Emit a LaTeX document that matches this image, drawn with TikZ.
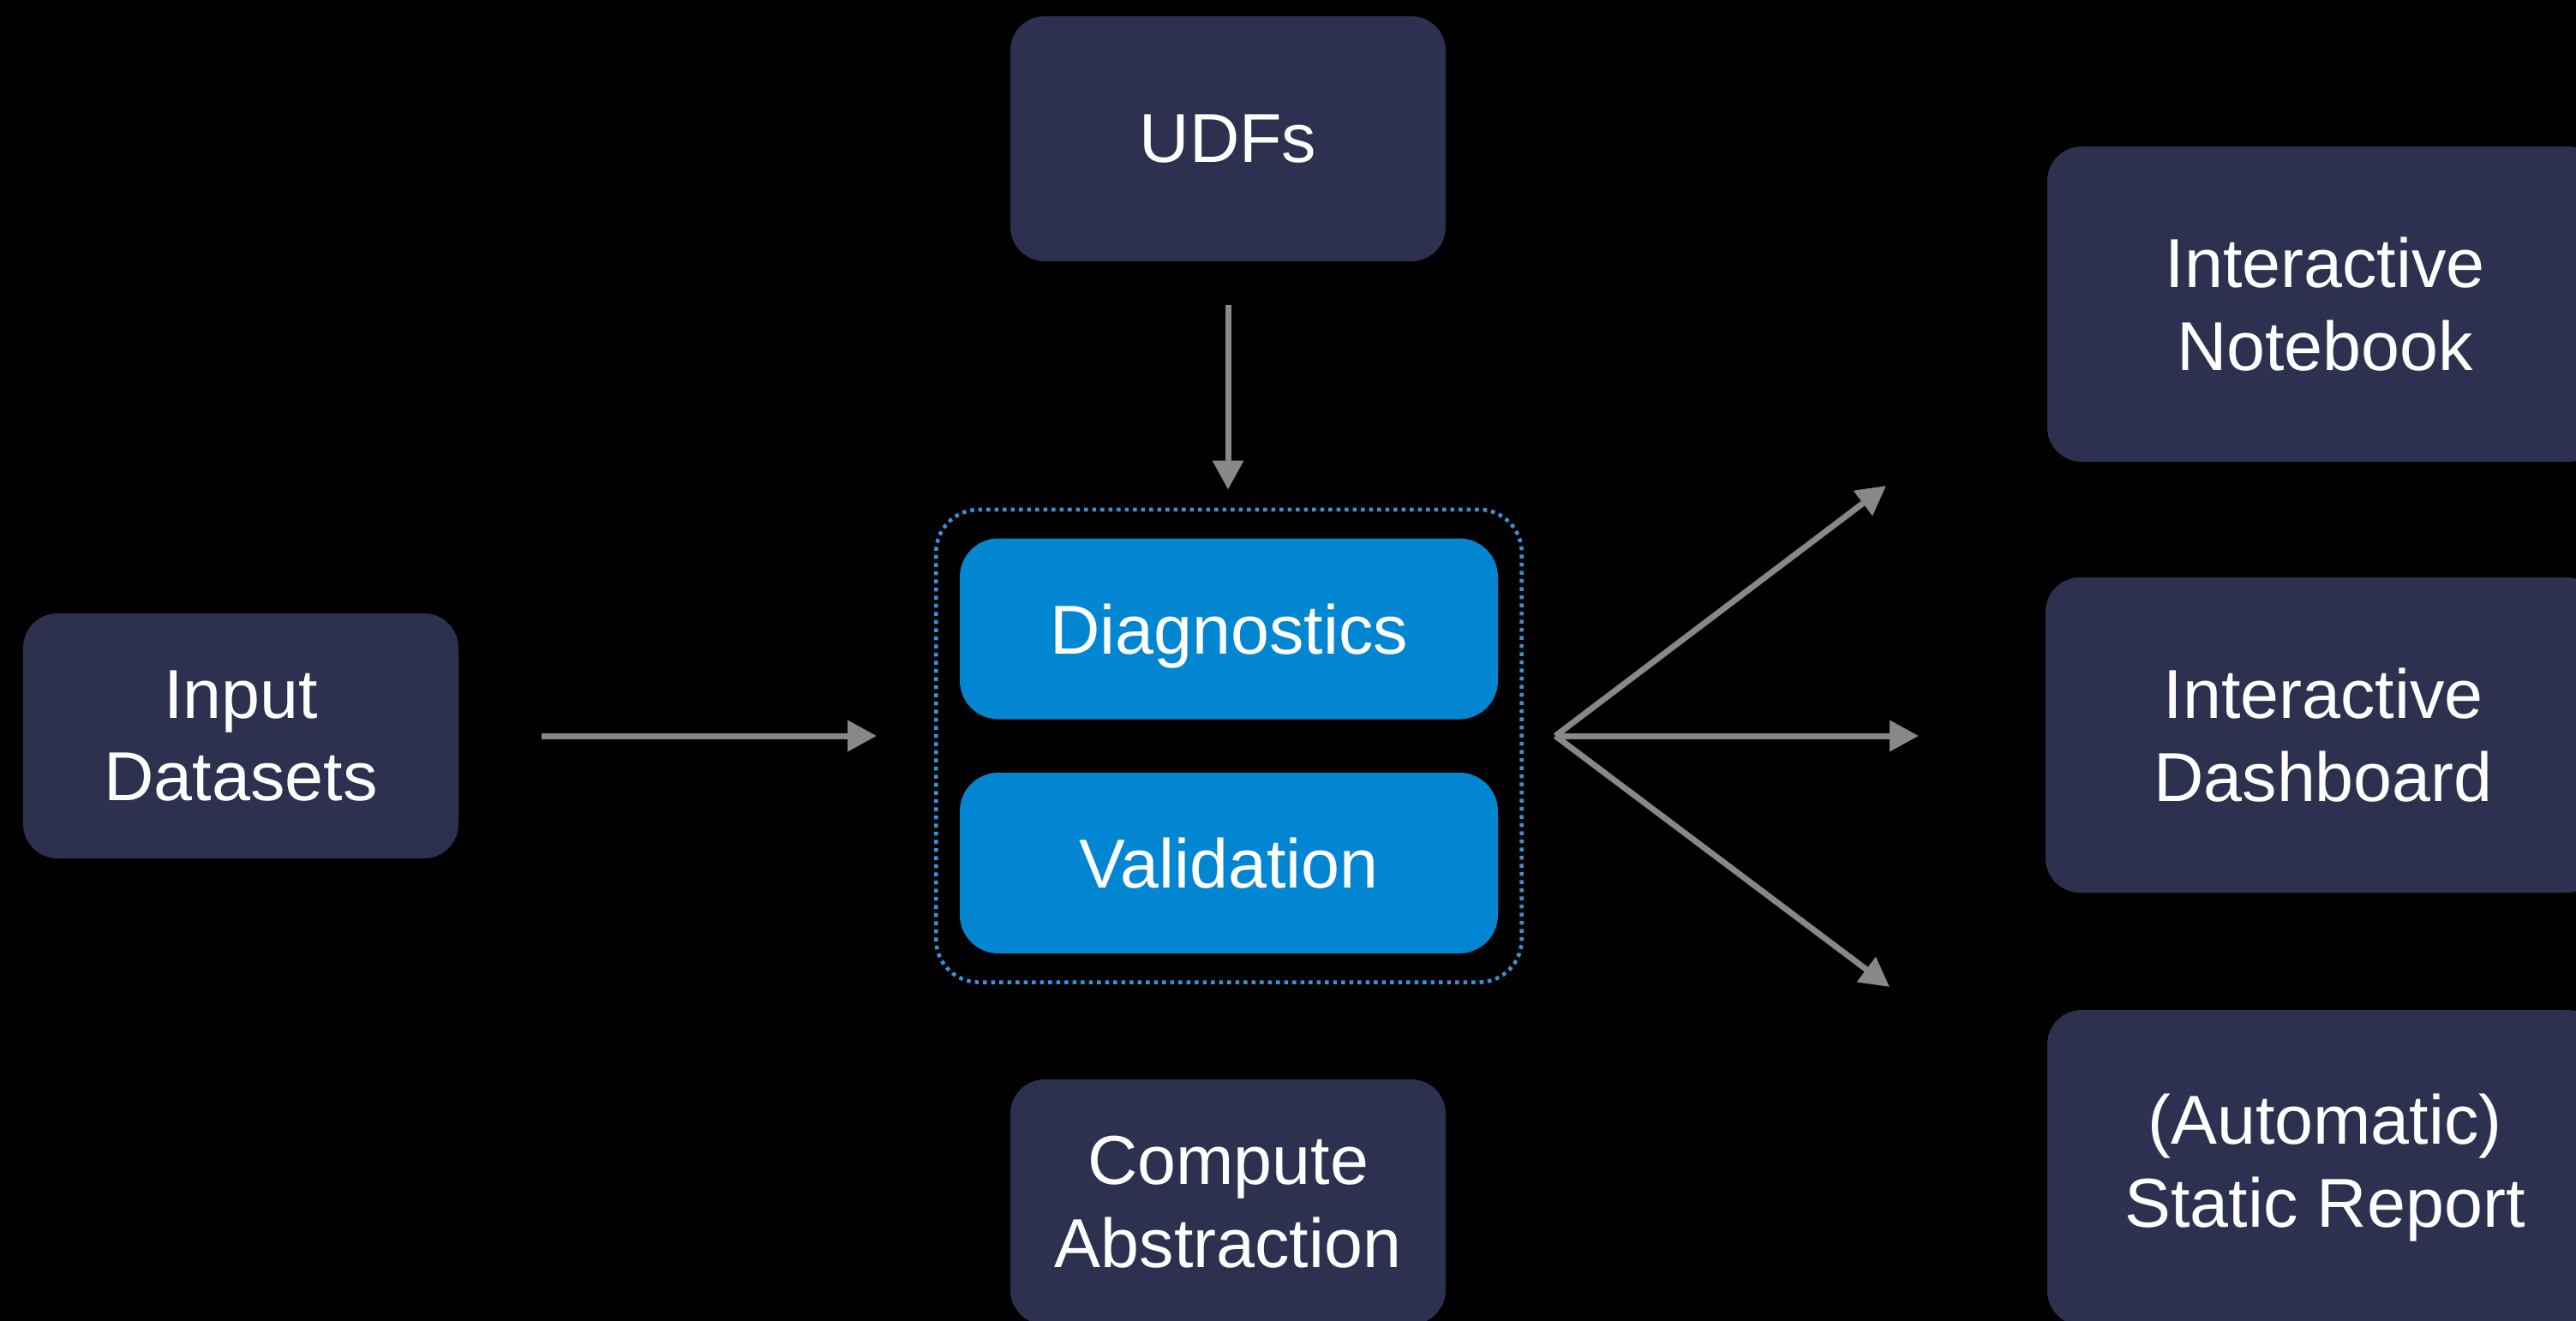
\documentclass[tikz,border=0pt]{standalone}
\usepackage{fontspec}
\setmainfont{Liberation Sans}
\usetikzlibrary{arrows.meta,positioning,calc,fit}

\definecolor{boxnavy}{RGB}{45,48,78}
\definecolor{checkblue}{RGB}{2,134,209}
\definecolor{dotblue}{RGB}{61,143,217}
\definecolor{arrowgray}{RGB}{136,136,136}

\begin{document}
\begin{tikzpicture}[
    darkbox/.style={rectangle, rounded corners=0.4cm, fill=boxnavy, text=white, align=center, inner sep=0pt, minimum width=5.08cm, minimum height=2.86cm, font=\fontsize{23}{27.5}\selectfont},
    outbox/.style={darkbox, minimum width=6.48cm, minimum height=3.68cm},
    checkbox/.style={rectangle, rounded corners=0.45cm, fill=checkblue, text=white, inner sep=0pt, text height=16.8pt, text depth=0pt, minimum width=6.28cm, minimum height=2.11cm, font=\fontsize{23}{27.5}\selectfont},
    groupbox/.style={draw=dotblue, line width=0.045cm, dash pattern=on 0.045cm off 0.05cm, rounded corners=0.5cm, inner xsep=0.27cm, inner ysep=0.33cm},
    arrow/.style={-{Triangle[length=0.34cm,width=0.35cm]}, draw=arrowgray, line width=0.07cm},
    node distance=0.61cm
]
    \fill[black] (0,0) rectangle (30.06,-15.42);
    \useasboundingbox (0,0) rectangle (30.06,-15.42);

    % middle column
    \node[darkbox] (udf) at (14.33,-1.62) {UDFs};
    \node[checkbox] (diag) at (14.34,-7.34) {Diagnostics};
    \node[checkbox, below=of diag] (valid) {Validation};
    \node[groupbox, fit=(diag)(valid)] (group) {};
    \node[darkbox] (compute) at (14.33,-14.03) {Compute\\Abstraction};

    % input and outputs
    \node[darkbox] (input) at (2.81,-8.59) {Input\\Datasets};
    \node[outbox] (notebook) at (27.13,-3.55) {Interactive\\Notebook};
    \node[outbox] (dashboard) at (27.11,-8.58) {Interactive\\Dashboard};
    \node[outbox] (report) at (27.13,-13.63) {(Automatic)\\Static Report};

    % fan-out point and free arrow ends
    \coordinate (fan) at (18.15,-8.59);
    \coordinate (toNotebook) at (22.01,-5.67);
    \coordinate (toDashboard) at (22.39,-8.59);
    \coordinate (toReport) at (22.05,-11.52);

    \draw[arrow, shorten <=0.5cm, shorten >=0.21cm] (udf.south) -- (udf.south |- group.north);
    \draw[arrow, shorten <=0.96cm, shorten >=0.67cm] (input.east) -- (input.east -| group.west);
    \draw[arrow] (fan) -- (toNotebook);
    \draw[arrow] (fan) -- (toDashboard);
    \draw[arrow] (fan) -- (toReport);
\end{tikzpicture}
\end{document}
